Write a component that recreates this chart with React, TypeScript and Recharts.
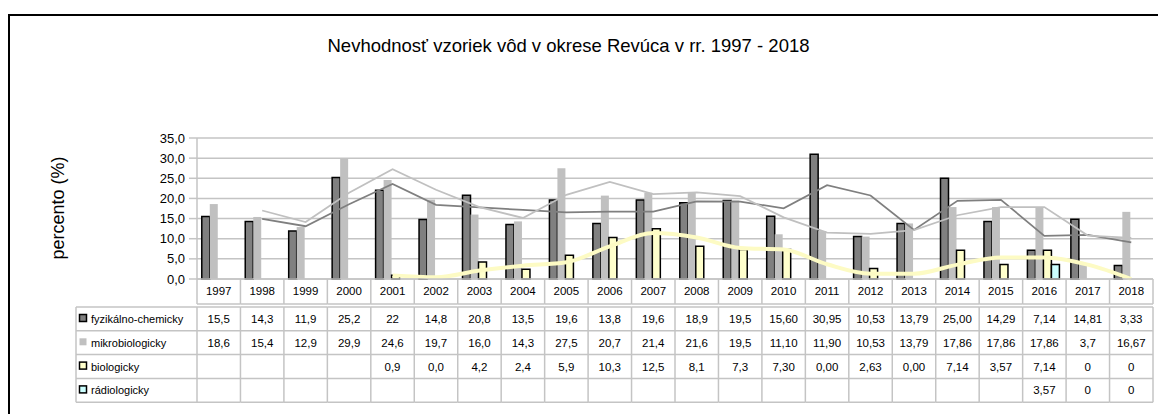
import React from 'react';
import { ComposedChart, Bar, Line, XAxis, YAxis, CartesianGrid } from 'recharts';

const years = ['1997','1998','1999','2000','2001','2002','2003','2004','2005','2006','2007','2008','2009','2010','2011','2012','2013','2014','2015','2016','2017','2018'];

const fyzValues = [15.5,14.3,11.9,25.2,22,14.8,20.8,13.5,19.6,13.8,19.6,18.9,19.5,15.6,30.95,10.53,13.79,25.0,14.29,7.14,14.81,3.33];
const mikroValues = [18.6,15.4,12.9,29.9,24.6,19.7,16.0,14.3,27.5,20.7,21.4,21.6,19.5,11.1,11.9,10.53,13.79,17.86,17.86,17.86,3.7,16.67];
const bioValues = [null,null,null,null,0.9,0.0,4.2,2.4,5.9,10.3,12.5,8.1,7.3,7.3,0.0,2.63,0.0,7.14,3.57,7.14,0,0];
const radioValues = [null,null,null,null,null,null,null,null,null,null,null,null,null,null,null,null,null,null,null,3.57,0,0];

// 2-period moving average trendlines
const fyzTrend = [null,14.9,13.1,18.55,23.6,18.4,17.8,17.15,16.55,16.7,16.7,19.25,19.2,17.55,23.28,20.74,12.16,19.4,19.65,10.72,10.98,9.07];
const mikroTrend = [null,17.0,14.15,21.4,27.25,22.15,17.85,15.15,20.9,24.1,21.05,21.5,20.55,15.3,11.5,11.22,12.16,15.83,17.86,17.86,10.78,10.19];
const bioTrend = [null,null,null,null,0.9,0.45,2.1,3.3,4.15,8.1,11.4,10.3,7.7,7.3,3.65,1.32,1.32,3.57,5.36,5.36,3.57,0];

const fyzLabels = ['15,5','14,3','11,9','25,2','22','14,8','20,8','13,5','19,6','13,8','19,6','18,9','19,5','15,60','30,95','10,53','13,79','25,00','14,29','7,14','14,81','3,33'];
const mikroLabels = ['18,6','15,4','12,9','29,9','24,6','19,7','16,0','14,3','27,5','20,7','21,4','21,6','19,5','11,10','11,90','10,53','13,79','17,86','17,86','17,86','3,7','16,67'];
const bioLabels = ['','','','','0,9','0,0','4,2','2,4','5,9','10,3','12,5','8,1','7,3','7,30','0,00','2,63','0,00','7,14','3,57','7,14','0','0'];
const radioLabels = ['','','','','','','','','','','','','','','','','','','','3,57','0','0'];

const seriesNames = ['fyzikálno-chemicky','mikrobiologicky','biologicky','rádiologicky'];
const yTicks = [0,5,10,15,20,25,30,35];

const data = years.map((y, i) => ({
  year: y,
  fyz: fyzValues[i],
  mikro: mikroValues[i],
  bio: bioValues[i],
  radio: radioValues[i],
  fyzT: fyzTrend[i],
  mikroT: mikroTrend[i],
  bioT: bioTrend[i],
}));

const W = 1158;
const H = 414;
const M = { top: 138, right: 5, left: 0, bottom: 0 };
const Y_W = 197;
const X_H = 135;
const COLW = (W - M.right - Y_W) / years.length;
const GRID = '#c4c4c4';
const FONT = '"Liberation Sans", Arial, sans-serif';

const rowLabels = [fyzLabels, mikroLabels, bioLabels, radioLabels];
const keyStyles = [
  { fill: '#808080', stroke: '#000' },
  { fill: '#c0c0c0', stroke: 'none' },
  { fill: '#ffffcc', stroke: '#000' },
  { fill: '#ccffff', stroke: '#000' },
];

const TableTick = (props: any) => {
  const { x, y, payload } = props;
  const i = years.indexOf(String(payload.value));
  const l = x - COLW / 2;
  const r = x + COLW / 2;
  const hdrBottom = y + 25;
  const tTop = y + 28;
  const rowH = 23.8;
  const tBottom = tTop + rowH * 4;
  const els: any[] = [];
  els.push(<line key="vl1" x1={l} x2={l} y1={y} y2={hdrBottom} stroke={GRID} strokeWidth={1.5} />);
  els.push(<line key="vl2" x1={l} x2={l} y1={tTop} y2={tBottom} stroke={GRID} strokeWidth={1.5} />);
  if (i === years.length - 1) {
    els.push(<line key="vr1" x1={r} x2={r} y1={y} y2={hdrBottom} stroke={GRID} strokeWidth={1.5} />);
    els.push(<line key="vr2" x1={r} x2={r} y1={tTop} y2={tBottom} stroke={GRID} strokeWidth={1.5} />);
  }
  els.push(<line key="hb" x1={l} x2={r} y1={hdrBottom} y2={hdrBottom} stroke={GRID} strokeWidth={1.5} />);
  for (let k = 0; k <= 4; k++) {
    const yy = tTop + rowH * k;
    els.push(<line key={'h' + k} x1={l} x2={r} y1={yy} y2={yy} stroke={GRID} strokeWidth={1.5} />);
  }
  els.push(
    <text key="yr" x={x} y={y + 16} textAnchor="middle" fontSize={11.5} fontFamily={FONT} fill="#000">{payload.value}</text>
  );
  rowLabels.forEach((arr, k) => {
    els.push(
      <text key={'v' + k} x={x} y={tTop + rowH * k + 16} textAnchor="middle" fontSize={11.5} fontFamily={FONT} fill="#000">{arr[i]}</text>
    );
  });
  if (i === 0) {
    const L0 = 76;
    for (let k = 0; k <= 4; k++) {
      const yy = tTop + rowH * k;
      els.push(<line key={'lh' + k} x1={L0} x2={l} y1={yy} y2={yy} stroke={GRID} strokeWidth={1.5} />);
    }
    els.push(<line key="lv" x1={L0} x2={L0} y1={tTop} y2={tBottom} stroke={GRID} strokeWidth={1.5} />);
    seriesNames.forEach((n, k) => {
      const cy = tTop + rowH * k + 12;
      const ks = keyStyles[k];
      els.push(<rect key={'k' + k} x={79.5} y={cy - 4.5} width={7} height={7} fill={ks.fill} stroke={ks.stroke} strokeWidth={1.5} />);
      els.push(
        <text key={'n' + k} x={91} y={cy + 4} fontSize={11} fontFamily={FONT} fill="#000">{n}</text>
      );
    });
  }
  return <g>{els}</g>;
};

const YLabel = () => (
  <text x={58} y={208} dominantBaseline="central" transform="rotate(-90 58 208)" textAnchor="middle" fontSize={18} fontFamily={FONT} fill="#000">percento (%)</text>
);

export default function App() {
  return (
    <div style={{ position: 'absolute', left: 0, top: 0, width: W, height: H, overflow: 'hidden', background: '#fff' }}>
      <div style={{ position: 'absolute', left: 8, top: 14, width: 1300, height: 600, border: '2px solid #000', boxSizing: 'border-box' }} />
      <div style={{ position: 'absolute', left: 0, width: 1137, top: 35, textAlign: 'center', fontFamily: FONT, fontSize: 18.5, color: '#000', lineHeight: '22px' }}>
        Nevhodnosť vzoriek vôd v okrese Revúca v rr. 1997 - 2018
      </div>
      <div style={{ position: 'absolute', left: 0, top: 0 }}>
        <ComposedChart width={W} height={H} data={data} margin={M} barCategoryGap="11%" barGap={0}>
          <CartesianGrid vertical={false} stroke={GRID} strokeWidth={1.5} />
          <XAxis
            dataKey="year"
            height={X_H}
            interval={0}
            tickLine={false}
            tickSize={0}
            tickMargin={0}
            axisLine={{ stroke: GRID, strokeWidth: 1.5 }}
            tick={<TableTick />}
          />
          <YAxis
            width={Y_W}
            domain={[0, 35]}
            ticks={yTicks}
            interval={0}
            tickFormatter={(v: number) => v.toFixed(1).replace('.', ',')}
            tick={{ fontSize: 13, fontFamily: FONT, fill: '#000' }}
            tickSize={8}
            tickMargin={4}
            tickLine={{ stroke: GRID, strokeWidth: 1.5 }}
            axisLine={{ stroke: GRID, strokeWidth: 1.5 }}
            label={<YLabel />}
          />
          <YAxis yAxisId="r" orientation="right" width={0} domain={[0, 35]} tick={false} tickLine={false} axisLine={{ stroke: GRID, strokeWidth: 1.5 }} />
          <Bar dataKey="fyz" name={seriesNames[0]} fill="#808080" stroke="#000" strokeWidth={1.5} isAnimationActive={false} />
          <Bar dataKey="mikro" name={seriesNames[1]} fill="#c0c0c0" isAnimationActive={false} />
          <Bar dataKey="bio" name={seriesNames[2]} fill="#ffffcc" stroke="#000" strokeWidth={1.5} isAnimationActive={false} />
          <Bar dataKey="radio" name={seriesNames[3]} fill="#ccffff" stroke="#000" strokeWidth={1.5} isAnimationActive={false} />
          <Line dataKey="fyzT" type="linear" stroke="#7f7f7f" strokeWidth={1.75} dot={false} activeDot={false} connectNulls={false} isAnimationActive={false} />
          <Line dataKey="mikroT" type="linear" stroke="#c0c0c0" strokeWidth={1.75} dot={false} activeDot={false} isAnimationActive={false} />
          <Line dataKey="bioT" type="monotone" stroke="#fdfbc4" strokeWidth={4} dot={false} activeDot={false} isAnimationActive={false} />
        </ComposedChart>
      </div>
    </div>
  );
}
